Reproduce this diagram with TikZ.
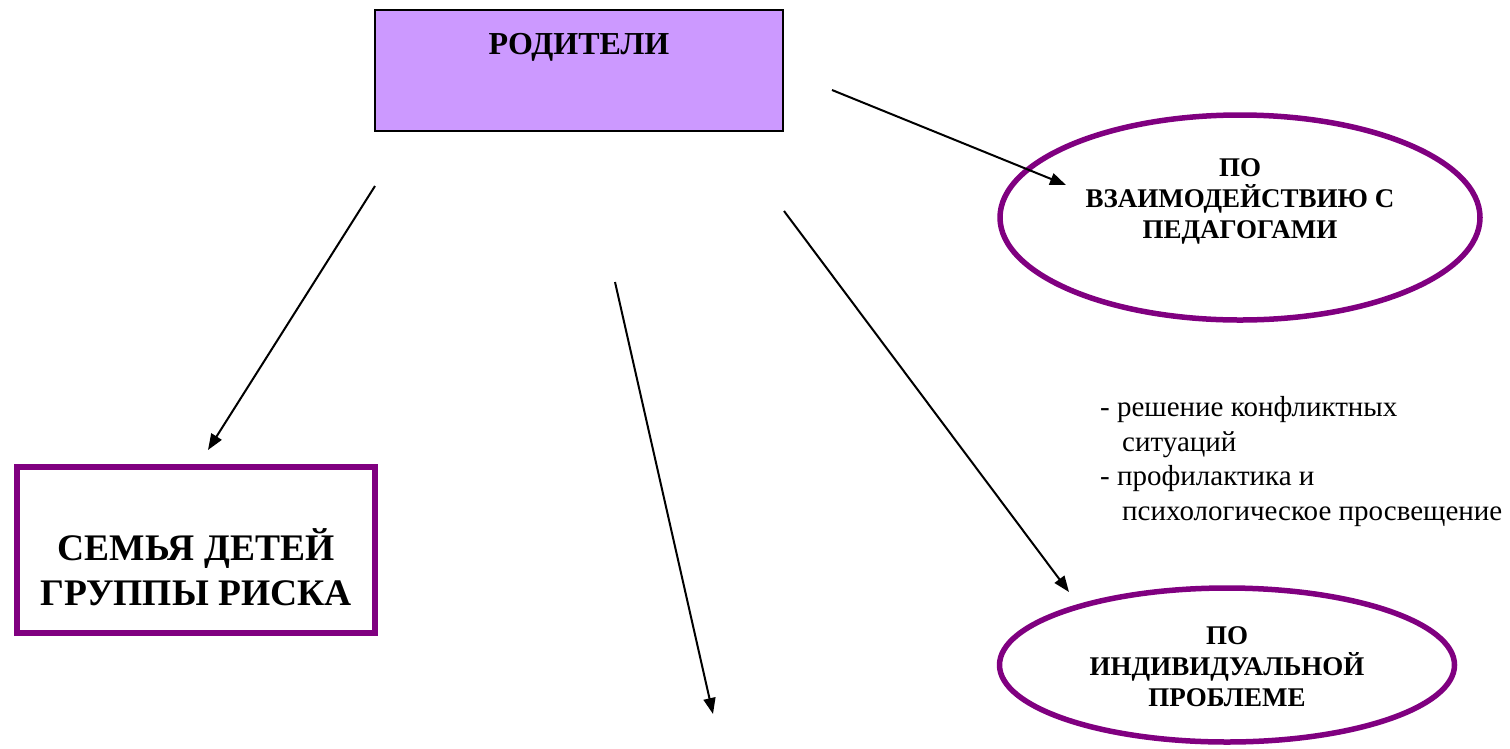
\documentclass[tikz,border=0pt]{standalone}
\usepackage{fontspec}
\setmainfont{Liberation Serif}
\usetikzlibrary{arrows.meta,shapes.geometric}
\definecolor{lilac}{HTML}{CC99FF}
\definecolor{plum}{HTML}{800080}
\begin{document}
\begin{tikzpicture}[x=1pt,y=-1pt,
  parentbox/.style={draw=black,line width=2pt,fill=lilac,rectangle,minimum width=408pt,minimum height=121pt,inner sep=0pt},
  riskbox/.style={draw=plum,line width=6pt,fill=white,rectangle,minimum width=358pt,minimum height=166pt,inner sep=0pt},
  oval/.style={draw=plum,line width=5.5pt,fill=white,ellipse,inner sep=0pt},
  headtext/.style={font=\bfseries\fontsize{32}{38}\selectfont},
  ovaltext/.style={font=\bfseries\fontsize{27}{31}\selectfont,align=center},
  risktext/.style={font=\bfseries\fontsize{37.5}{45.5}\selectfont,align=center},
  bodytext/.style={font=\fontsize{29}{34.7}\selectfont,align=left,inner sep=0pt},
  conn/.style={line width=2pt,draw=black,-{Triangle[length=16pt,width=12pt]}}
]
\useasboundingbox (0,0) rectangle (1510,748);

\node[parentbox,label={[headtext,anchor=base,yshift=-45pt]north:РОДИТЕЛИ}] (parents) at (579,70.5) {};

\node[riskbox,label={[risktext,yshift=-17pt]center:СЕМЬЯ ДЕТЕЙ\\ГРУППЫ РИСКА}] (risk) at (196,550) {};

\node[oval,minimum width=480pt,minimum height=205pt,label={[ovaltext,yshift=16pt]center:ПО\\ВЗАИМОДЕЙСТВИЮ С\\ПЕДАГОГАМИ}] (teachers) at (1240,217.5) {};

\node[oval,minimum width=455pt,minimum height=154pt,label={[ovaltext,yshift=-2pt]center:ПО\\ИНДИВИДУАЛЬНОЙ\\ПРОБЛЕМЕ}] (problem) at (1227,665) {};

\node[bodytext,anchor=north west] (tasks) at (1100,396) {- решение конфликтных\\\hspace*{22pt}ситуаций\\- профилактика и\\\hspace*{22pt}психологическое просвещение};

\coordinate (a1s) at (832,90);
\coordinate (a1e) at (1066,185);
\coordinate (a2s) at (375,186);
\coordinate (a2e) at (208,450);
\coordinate (a3s) at (615,282);
\coordinate (a3e) at (713,714);
\coordinate (a4s) at (784,211);
\coordinate (a4e) at (1069,592);

\draw[conn] (a1s) -- (a1e);
\draw[conn] (a2s) -- (a2e);
\draw[conn] (a3s) -- (a3e);
\draw[conn] (a4s) -- (a4e);
\end{tikzpicture}
\end{document}
